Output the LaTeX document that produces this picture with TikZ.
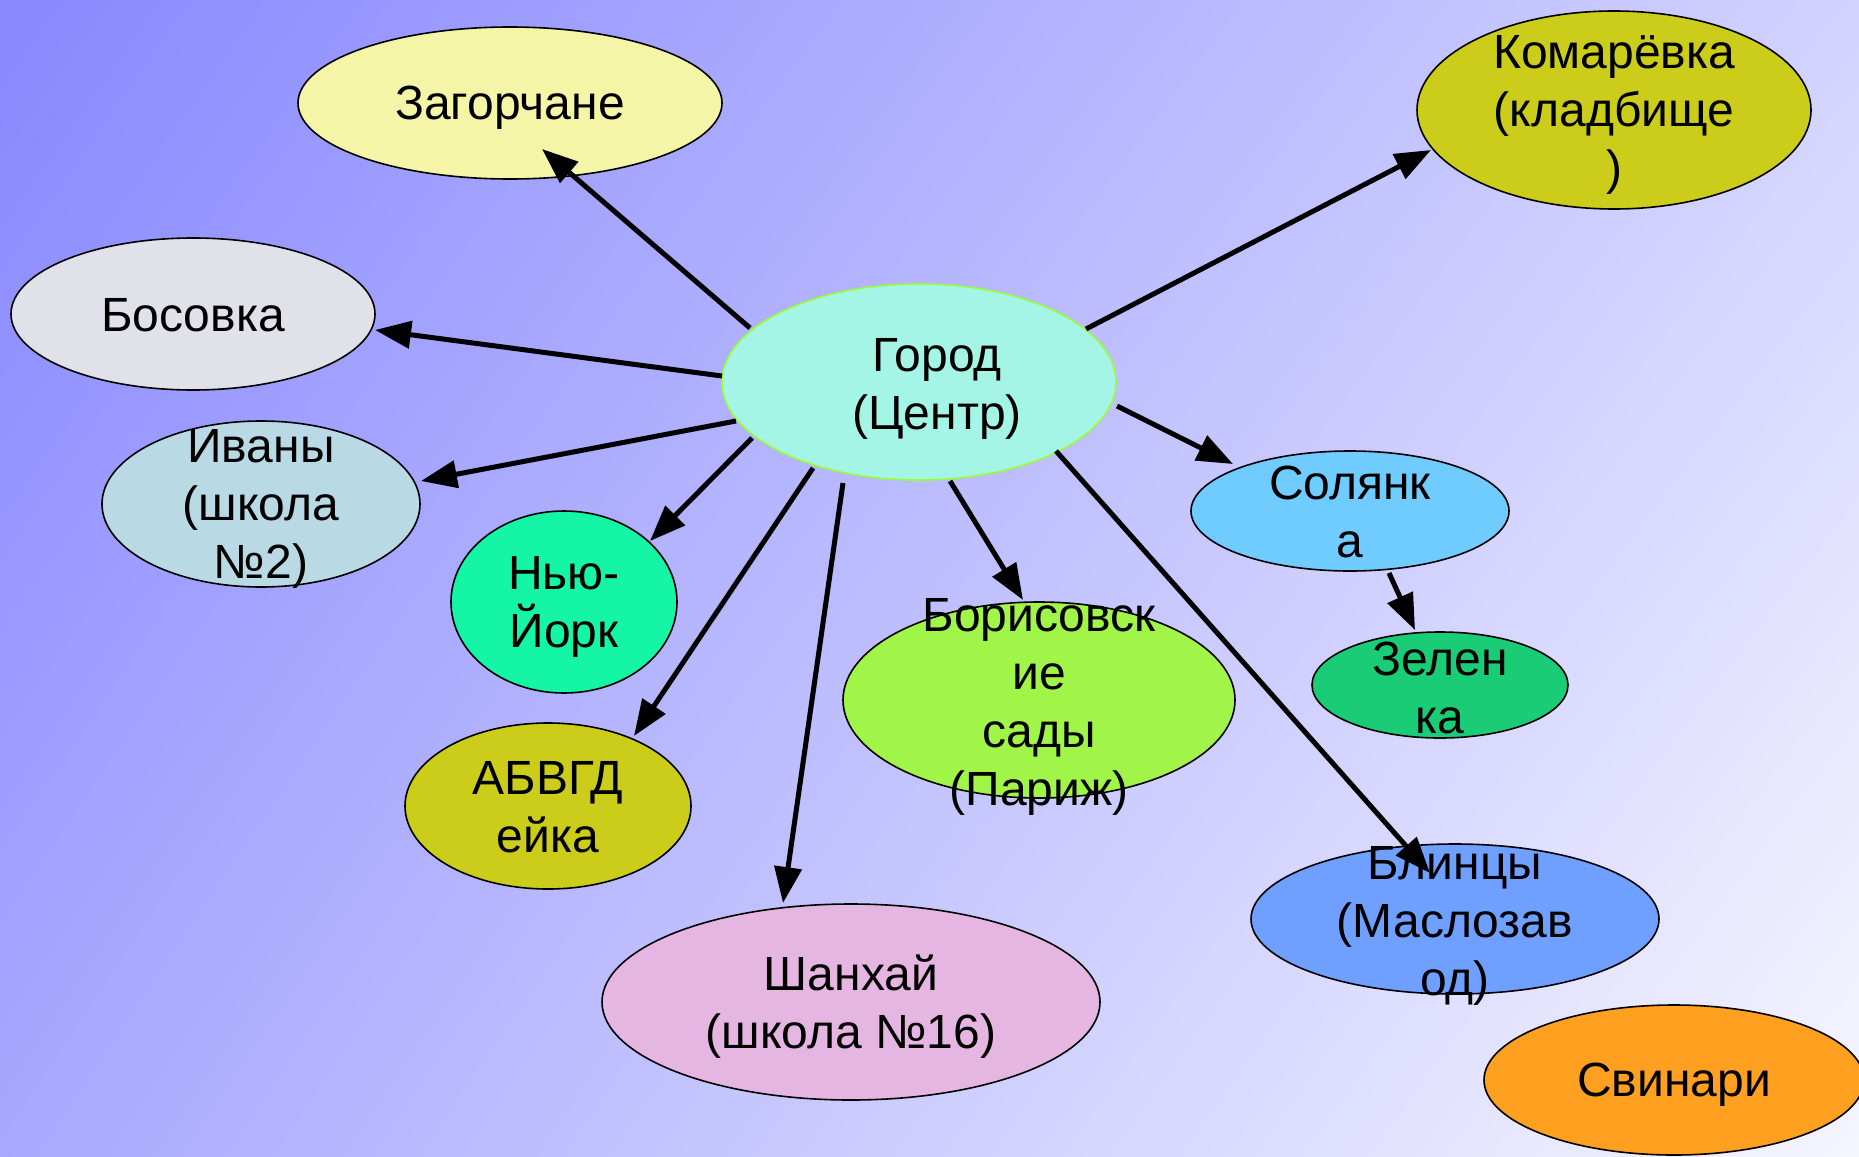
\documentclass[tikz,border=0pt]{standalone}
\usepackage{fontspec}
\setmainfont{Liberation Sans}
\usetikzlibrary{arrows.meta,shapes.geometric,shadings}
\definecolor{bgUL}{HTML}{8888FF}
\definecolor{bgUR}{HTML}{D2D2FF}
\definecolor{bgLL}{HTML}{A8A8FF}
\definecolor{bgLR}{HTML}{F6F6FF}
\definecolor{cCity}{HTML}{A5F5E6}
\definecolor{cCityB}{HTML}{99FF33}
\definecolor{cZag}{HTML}{F5F5A8}
\definecolor{cOlive}{HTML}{CCCC1A}
\definecolor{cBos}{HTML}{E1E1EA}
\definecolor{cIvan}{HTML}{B9DAE4}
\definecolor{cNY}{HTML}{14F5A5}
\definecolor{cSol}{HTML}{70CCFF}
\definecolor{cZel}{HTML}{1BCC77}
\definecolor{cBor}{HTML}{A0F548}
\definecolor{cSha}{HTML}{E6B6E2}
\definecolor{cBli}{HTML}{70A0FF}
\definecolor{cSvi}{HTML}{FFA020}
\tikzset{
  blob/.style={ellipse, draw=black, line width=1.6pt, inner sep=0pt},
  lbl/.style={align=center, inner sep=0pt, yshift=-5pt, font=\fontsize{48}{58}\selectfont},
  link/.style={line width=5pt, -{Triangle[length=36pt,width=27pt]}},
}
\begin{document}
\begin{tikzpicture}[x=1pt,y=-1pt]
\useasboundingbox (0,0) rectangle (1859,1156);
\clip (0,0) rectangle (1859,1156);
\shade[upper left=bgUL, upper right=bgUR, lower left=bgLL, lower right=bgLR] (0,0) rectangle (1859,1156);

% ellipses
\node[blob, fill=cCity, draw=cCityB, minimum width=394pt, minimum height=196pt] (city) at (919,382) {};
\node[blob, fill=cZag, minimum width=424pt, minimum height=152pt] (zag) at (510,103) {};
\node[blob, fill=cOlive, minimum width=394pt, minimum height=198pt] (kom) at (1614,110) {};
\node[blob, fill=cBos, minimum width=364pt, minimum height=152pt] (bos) at (193,314) {};
\node[blob, fill=cIvan, minimum width=318pt, minimum height=166pt] (ivan) at (261,504) {};
\node[blob, fill=cNY, minimum width=226pt, minimum height=182pt] (ny) at (564,602) {};
\node[blob, fill=cSol, minimum width=318pt, minimum height=120pt] (sol) at (1350,511) {};
\node[blob, fill=cZel, minimum width=256pt, minimum height=106pt] (zel) at (1440,685) {};
\node[blob, fill=cBor, minimum width=392pt, minimum height=196pt] (bor) at (1039,700) {};
\node[blob, fill=cOlive, minimum width=286pt, minimum height=166pt] (abv) at (548,806) {};
\node[blob, fill=cSha, minimum width=498pt, minimum height=196pt] (sha) at (851,1002) {};
\node[blob, fill=cBli, minimum width=408pt, minimum height=150pt] (bli) at (1455,919) {};
\node[blob, fill=cSvi, minimum width=380pt, minimum height=150pt] (svi) at (1674,1080) {};

% labels
\node[lbl, xshift=18pt, yshift=-2pt] (tcity) at (city.center) {Город\\(Центр)};
\node[lbl] (tzag) at (zag.center) {Загорчане};
\node[lbl] (tkom) at (kom.center) {Комарёвка\\(кладбище\\)};
\node[lbl, yshift=4pt] (tbos) at (bos.center) {Босовка};
\node[lbl] (tivan) at (ivan.center) {Иваны\\(школа\\№2)};
\node[lbl] (tny) at (ny.center) {Нью-\\Йорк};
\node[lbl, yshift=4pt] (tsol) at (sol.center) {Солянк\\а};
\node[lbl, yshift=2pt] (tzel) at (zel.center) {Зелен\\ка};
\node[lbl, yshift=-2pt] (tbor) at (bor.center) {Борисовск\\ие\\сады\\(Париж)};
\node[lbl, yshift=4pt] (tabv) at (abv.center) {АБВГД\\ейка};
\node[lbl] (tsha) at (sha.center) {Шанхай\\(школа №16)};
\node[lbl, yshift=-2pt] (tbli) at (bli.center) {Блинцы\\(Маслозав\\од)};
\node[lbl] (tsvi) at (svi.center) {Свинари};

% connectors
\draw[link] ([shift={(-169,-54)}]city.center) -- ([shift={(32,46)}]zag.center);
\draw[link] ([shift={(-197,-6)}]city.center) -- ([shift={(182,16)}]bos.center);
\draw[link] ([shift={(-183,39)}]city.center) -- ([shift={(160,-23)}]ivan.center);
\draw[link] ([shift={(-167,56)}]city.center) -- ([shift={(86,-61)}]ny.center);
\draw[link] ([shift={(-106,86)}]city.center) -- ([shift={(86,-70)}]abv.center);
\draw[link] ([shift={(-76,101)}]city.center) -- ([shift={(-68,-99)}]sha.center);
\draw[link] ([shift={(31,99)}]city.center) -- ([shift={(-16,-100)}]bor.center);
\draw[link] ([shift={(137,69)}]city.center) -- ([shift={(-25,-46)}]bli.center);
\draw[link] ([shift={(198,24)}]city.center) -- ([shift={(-117,-47)}]sol.center);
\draw[link] ([shift={(167,-53)}]city.center) -- ([shift={(-183,40)}]kom.center);
\draw[link] ([shift={(39,62)}]sol.center) -- ([shift={(-25,-55)}]zel.center);
\end{tikzpicture}
\end{document}
